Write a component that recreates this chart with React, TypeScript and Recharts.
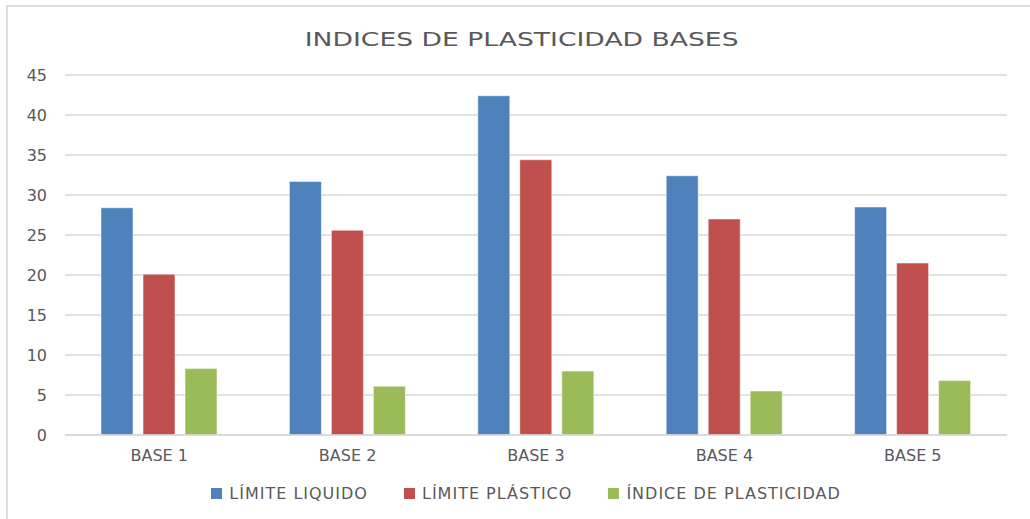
import { BarChart, Bar, XAxis, YAxis, CartesianGrid } from 'recharts';

const bases = ['BASE 1', 'BASE 2', 'BASE 3', 'BASE 4', 'BASE 5'];
const limiteLiquido = [28.4, 31.7, 42.4, 32.4, 28.5];
const limitePlastico = [20.1, 25.6, 34.4, 27.0, 21.5];
const indicePlasticidad = [8.3, 6.1, 8.0, 5.5, 6.8];
const yTicks = [0, 5, 10, 15, 20, 25, 30, 35, 40, 45];

const series = [
  { key: 'll', name: 'LÍMITE LIQUIDO', color: '#4F81BD' },
  { key: 'lp', name: 'LÍMITE PLÁSTICO', color: '#C0504D' },
  { key: 'ip', name: 'ÍNDICE DE PLASTICIDAD', color: '#9BBB59' },
];

const data = bases.map((base, i) => ({
  base,
  ll: limiteLiquido[i],
  lp: limitePlastico[i],
  ip: indicePlasticidad[i],
}));

const FONT = '"DejaVu Sans", "Open Sans", sans-serif';
const TEXT = '#595959';

function LegendRow() {
  return (
    <div
      style={{
        position: 'absolute',
        left: 0,
        width: 1052,
        top: 483,
        height: 20,
        display: 'flex',
        justifyContent: 'center',
        alignItems: 'center',
        fontFamily: FONT,
        fontSize: 16,
        letterSpacing: 1,
        color: TEXT,
      }}
    >
      {series.map(s => (
        <div key={s.key} style={{ display: 'flex', alignItems: 'center', margin: '0 18px' }}>
          <span style={{ width: 11, height: 11, background: s.color, marginRight: 7, display: 'inline-block' }} />
          <span>{s.name}</span>
        </div>
      ))}
    </div>
  );
}

export default function App() {
  return (
    <div style={{ position: 'absolute', left: 0, top: 0, width: 1030, height: 519, background: '#fff', overflow: 'hidden' }}>
      {/* frame: only top and left edges show */}
      <div
        style={{
          position: 'absolute',
          left: 6,
          top: 5,
          width: 1030,
          height: 520,
          borderTop: '2px solid #dedede',
          borderLeft: '2px solid #dedede',
        }}
      />
      <div
        style={{
          position: 'absolute',
          top: 27,
          left: 0,
          width: 1043,
          textAlign: 'center',
          fontFamily: FONT,
          fontSize: 20,
          color: TEXT,
          transform: 'scaleX(1.33)',
          transformOrigin: '521px 0',
        }}
      >
        INDICES DE PLASTICIDAD BASES
      </div>
      <div style={{ position: 'absolute', left: 0, top: 0 }}>
        <BarChart
          width={1030}
          height={519}
          data={data}
          margin={{ top: 75, right: 23, left: 0, bottom: 38 }}
          barCategoryGap={36}
          barGap={10}
        >
          <CartesianGrid vertical={false} stroke="#d9d9d9" strokeWidth={1.5} />
          <XAxis
            dataKey="base"
            tickLine={false}
            axisLine={{ stroke: '#d9d9d9', strokeWidth: 1.5 }}
            tick={{ fill: TEXT, fontSize: 16, fontFamily: FONT }}
            tickMargin={9}
            height={46}
          />
          <YAxis
            width={65}
            domain={[0, 45]}
            ticks={yTicks}
            interval={0}
            tickLine={false}
            axisLine={false}
            tick={{ fill: TEXT, fontSize: 16, fontFamily: FONT }}
            tickMargin={12}
          />
          {series.map(s => (
            <Bar
              key={s.key}
              dataKey={s.key}
              name={s.name}
              fill={s.color}
              stroke="#ffffff"
              strokeOpacity={0.5}
              strokeWidth={1}
              isAnimationActive={false}
            />
          ))}
        </BarChart>
      </div>
      <LegendRow />
    </div>
  );
}
